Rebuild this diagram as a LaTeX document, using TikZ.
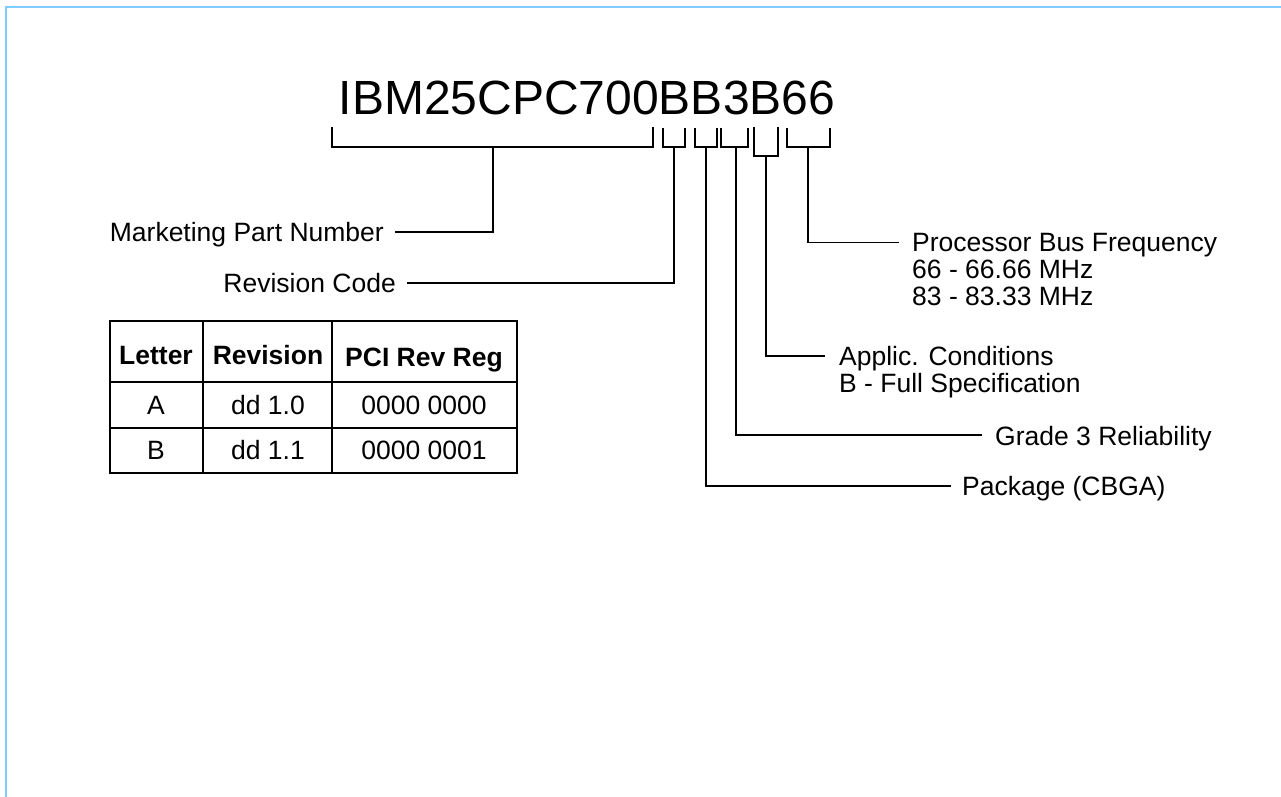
\documentclass[tikz,border=0pt]{standalone}
\usepackage{fontspec}
\setmainfont{Liberation Sans}
\definecolor{framecol}{RGB}{128,204,255}
\begin{document}
\begin{tikzpicture}[x=1pt,y=-1pt,
  ln/.style={line width=1.5pt, black},
  lbl/.style={inner sep=0pt, font=\fontsize{26.5}{26.8}\selectfont, align=left},
  hdr/.style={inner sep=0pt, font=\bfseries\fontsize{26.5}{28}\selectfont},
  cell/.style={inner sep=0pt, font=\fontsize{26.5}{28}\selectfont},
  frame/.style={draw=framecol, line width=2.5pt}]
\useasboundingbox (0,0) rectangle (1281,796);
\draw[frame] (1282,7) -- (6,7) -- (6,797);

% part number
\node[inner sep=0pt, font=\fontsize{48}{50}\selectfont, anchor=base] (pn) at (587,114) {IBM25CPC700BB3B66};

% brackets
\draw[ln] (332,127) |- (653,147) -- (653,127);
\draw[ln] (663,128) |- (685,147) -- (685,128);
\draw[ln] (695,128) |- (717,147) -- (717,128);
\draw[ln] (721,128) |- (748,147) -- (748,128);
\draw[ln] (754,127) |- (778,156) -- (778,127);
\draw[ln] (787,128) |- (830,147) -- (830,128);
\coordinate (s1) at (493,147);
\coordinate (s2) at (674,147);
\coordinate (s3) at (706,147);
\coordinate (s4) at (736,147);
\coordinate (s5) at (766,156);
\coordinate (s6) at (808,147);

% labels
\node[lbl, anchor=base east] (mkt) at (384,241) {Marketing Part Number};
\node[lbl, anchor=base east] (rev) at (396,292) {Revision Code};
\node[lbl, anchor=base west] (frq) at (912,305) {Processor Bus Frequency\\66 - 66.66 MHz\\83 - 83.33 MHz};
\node[lbl, anchor=base west] (app) at (839,392) {Applic. Conditions\\B - Full Specification};
\node[lbl, anchor=base west] (grd) at (995,445) {Grade 3 Reliability};
\node[lbl, anchor=base west] (pkg) at (962,495) {Package (CBGA)};

% connectors
\draw[ln] ([xshift=11pt]mkt.base east) ++(0,-9) -| (s1);
\draw[ln] ([xshift=11pt]rev.base east) ++(0,-9) -| (s2);
\draw[ln] (s6) |- ([xshift=-13pt,yshift=62.6pt]frq.base west);
\draw[ln] (s5) |- ([xshift=-14pt,yshift=35.8pt]app.base west);
\draw[ln] (s4) |- ([xshift=-13pt,yshift=10pt]grd.base west);
\draw[ln] (s3) |- ([xshift=-11pt,yshift=9pt]pkg.base west);

% table
\draw[ln] (110,321) rectangle (517,473);
\draw[ln] (110,382) -- (517,382);
\draw[ln] (110,428) -- (517,428);
\draw[ln] (203,321) -- (203,473);
\draw[ln] (332,321) -- (332,473);
\node[hdr, anchor=base] (h1) at (156,364) {Letter};
\node[hdr, anchor=base] (h2) at (268,364) {Revision};
\node[hdr, anchor=base] (h3) at (424,366) {PCI Rev Reg};
\node[cell, anchor=base] (a1) at (156,414) {A};
\node[cell, anchor=base] (a2) at (268,414) {dd 1.0};
\node[cell, anchor=base] (a3) at (424,414) {0000 0000};
\node[cell, anchor=base] (b1) at (156,459) {B};
\node[cell, anchor=base] (b2) at (268,459) {dd 1.1};
\node[cell, anchor=base] (b3) at (424,459) {0000 0001};
\end{tikzpicture}
\end{document}
